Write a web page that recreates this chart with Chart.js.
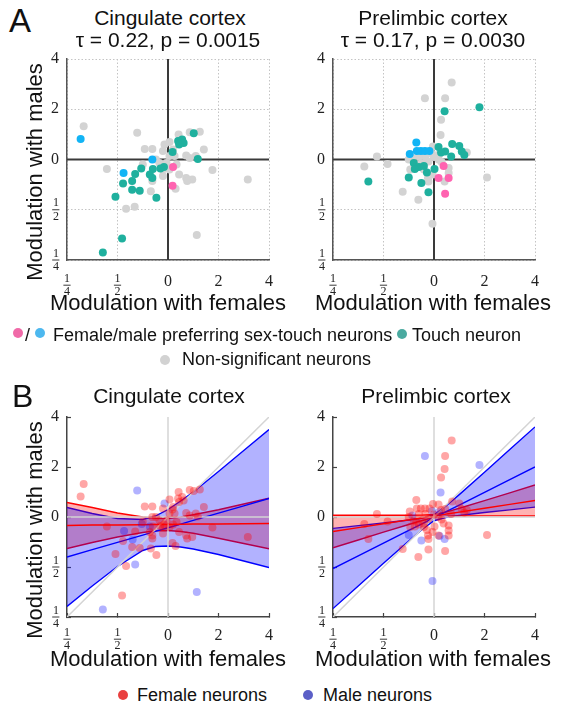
<!DOCTYPE html>
<html><head><meta charset="utf-8">
<script src="https://cdn.jsdelivr.net/npm/chart.js@4.4.0/dist/chart.umd.min.js"></script>
<style>
body{margin:0;background:#fff;width:562px;height:709px;position:relative;overflow:hidden;font-family:"Liberation Sans",Arial,sans-serif;color:#111}
.t{position:absolute;white-space:nowrap;line-height:1}
.c{transform:translateX(-50%)}
canvas{position:absolute}
.dot{position:absolute;border-radius:50%;width:10px;height:10px;margin:-5px 0 0 -5px}
</style></head><body>
<canvas id="aL" width="290" height="261" style="left:0;top:39px"></canvas>
<canvas id="aR" width="282" height="261" style="left:280px;top:39px"></canvas>
<canvas id="bL" width="290" height="267" style="left:0;top:393px"></canvas>
<canvas id="bR" width="282" height="267" style="left:280px;top:393px"></canvas>

<div class="t" style="left:9px;top:4px;font-size:33px">A</div>
<div class="t c" style="left:170px;top:7px;font-size:21px">Cingulate cortex</div>
<div class="t c" style="left:168px;top:29px;font-size:21px">τ = 0.22, p = 0.0015</div>
<div class="t c" style="left:433px;top:7px;font-size:21px">Prelimbic cortex</div>
<div class="t c" style="left:433px;top:29px;font-size:21px">τ = 0.17, p = 0.0030</div>
<div class="t c" style="left:168px;top:292px;font-size:22px">Modulation with females</div>
<div class="t c" style="left:433px;top:292px;font-size:22px">Modulation with females</div>
<div class="t" style="left:35px;top:172px;font-size:22px;transform:translate(-50%,-50%) rotate(-90deg)">Modulation with males</div>

<div class="dot" style="left:18px;top:333px;background:#f06aa8"></div>
<div class="t" style="left:25px;top:326px;font-size:18px">/</div>
<div class="dot" style="left:40px;top:333px;background:#4db8ef"></div>
<div class="t" style="left:53px;top:326px;font-size:18px">Female/male preferring sex-touch neurons</div>
<div class="dot" style="left:402px;top:334px;background:#4aaaa0"></div>
<div class="t" style="left:412px;top:326px;font-size:18px">Touch neuron</div>
<div class="dot" style="left:165px;top:360px;background:#d2d2d2"></div>
<div class="t" style="left:182px;top:350px;font-size:18px">Non-significant neurons</div>

<div class="t" style="left:12px;top:380px;font-size:32px">B</div>
<div class="t c" style="left:169px;top:385px;font-size:21px">Cingulate cortex</div>
<div class="t c" style="left:436px;top:385px;font-size:21px">Prelimbic cortex</div>
<div class="t c" style="left:168px;top:648px;font-size:22px">Modulation with females</div>
<div class="t c" style="left:433px;top:648px;font-size:22px">Modulation with females</div>
<div class="t" style="left:35px;top:530px;font-size:22px;transform:translate(-50%,-50%) rotate(-90deg)">Modulation with males</div>

<div class="dot" style="left:123px;top:695px;background:#e9403f"></div>
<div class="t" style="left:137px;top:686px;font-size:18px">Female neurons</div>
<div class="dot" style="left:308px;top:695px;background:#5b5fc7"></div>
<div class="t" style="left:323px;top:686px;font-size:18px">Male neurons</div>

<script>
// ---- axis ticks (log2 units) ----
const tickVals = [-2, -1, 0, 1, 2];
const tickLabels = [['1','4'], ['1','2'], '0', '2', '4'];

// ---- Panel A, cingulate cortex: [log2 mod. females, log2 mod. males] ----
const grayL = [[-1.67,0.66],[-0.61,0.53],[0.21,0.50],[0.43,0.54],[0.63,0.55],[0.71,0.20],[0.88,-0.21],[0.36,0.08],[0.55,0.07],[-0.46,0.21],[-0.31,0.21],[-0.07,0.30],[0.03,0.35],[-0.10,0.17],[-0.24,0.0],[-0.50,-0.10],[-0.17,-0.07],[-0.10,-0.20],[-0.10,-0.33],[-0.31,-0.43],[0.17,-0.10],[0.22,-0.30],[0.36,-0.37],[0.48,-0.40],[0.38,-0.43],[0.15,-0.58],[-0.83,-0.98],[-0.66,-0.94],[-1.21,-0.19],[-0.34,-0.63],[0.03,0.07],[0.13,0.07],[0.10,0.20],[-0.03,-0.07],[0.03,-0.20],[0.43,0.03],[0.57,-1.50],[1.58,-0.40]];
const tealL = [[0.51,0.52],[0.20,0.37],[0.28,0.40],[0.31,0.33],[0.22,0.30],[0.09,0.15],[0.59,0.01],[-0.08,-0.15],[-0.15,-0.18],[-0.30,-0.19],[-0.53,-0.18],[-0.36,-0.30],[-0.31,-0.37],[-0.65,-0.29],[-0.71,-0.43],[-0.89,-0.48],[-0.71,-0.60],[-0.56,-0.62],[-1.04,-0.74],[-0.23,-0.76],[-0.91,-1.57],[-1.29,-1.85]];
const blueL = [[-1.73,0.41],[-0.31,0.0],[-0.88,-0.27]];
const pinkL = [[0.10,-0.15],[0.09,-0.52]];

// ---- Panel A, prelimbic cortex ----
const grayR = [[0.35,1.53],[-0.18,1.22],[0.22,1.22],[0.14,0.79],[0.13,0.49],[-1.38,-0.14],[-1.13,0.06],[-0.92,-0.09],[-0.62,-0.64],[-0.31,-0.80],[-0.03,-1.28],[1.05,-0.36],[-0.02,0.26],[0.65,0.14],[0.21,-0.44],[-0.11,-0.44],[0.29,-0.27],[-0.04,0.12],[-0.17,0.06],[-0.30,0.06],[-0.43,0.03],[-0.50,0.0],[0.09,0.0],[-0.11,-0.04],[-0.24,-0.07],[0.29,-0.17],[-0.47,-0.20],[-0.12,-0.37],[-0.03,-0.30],[0.0,0.05],[0.10,0.10],[-0.20,-0.20],[0.15,-0.05],[-0.35,-0.10]];
const tealR = [[0.21,0.96],[0.90,1.04],[0.36,0.31],[0.50,0.27],[0.55,0.16],[0.60,0.09],[0.09,0.25],[0.22,0.16],[0.14,0.14],[0.34,0.06],[-0.40,-0.07],[-0.30,-0.15],[-0.20,-0.13],[-0.38,-0.19],[-0.14,-0.26],[0.01,-0.19],[-0.50,-0.36],[-0.25,-0.47],[-0.11,-0.65],[-1.30,-0.44]];
const blueR = [[-0.35,0.34],[-0.34,0.17],[-0.26,0.17],[-0.18,0.17],[-0.09,0.17],[-0.48,0.11]];
const pinkR = [[0.19,-0.13],[0.09,-0.37],[0.29,-0.37],[0.22,-0.68]];

// ---- Panel B, neurons by sex ----
const maleL = [[-0.61,0.53],[-0.07,0.27],[-0.52,-0.14],[-0.87,-0.28],[-0.70,-0.45],[-0.65,-0.95],[-1.29,-1.85],[0.57,-1.50],[-0.36,-0.19]];
const femaleL = [[-1.67,0.66],[0.21,0.50],[0.43,0.54],[0.63,0.55],[0.71,0.20],[0.88,-0.21],[0.36,0.08],[0.55,0.07],[-0.46,0.21],[-0.31,0.21],[0.03,0.35],[-0.10,0.17],[-0.24,0.0],[-0.50,-0.10],[-0.17,-0.07],[-0.10,-0.20],[-0.10,-0.33],[-0.31,-0.43],[0.17,-0.10],[0.22,-0.30],[0.36,-0.37],[0.48,-0.40],[0.38,-0.43],[0.15,-0.58],[-0.83,-0.98],[-1.21,-0.19],[-0.34,-0.63],[0.03,0.07],[0.13,0.07],[0.10,0.20],[-0.03,-0.07],[0.03,-0.20],[0.43,0.03],[1.58,-0.40],[0.51,0.52],[0.20,0.37],[0.28,0.40],[0.31,0.33],[0.22,0.30],[0.09,0.15],[0.59,0.01],[-0.08,-0.15],[-0.15,-0.18],[-0.30,-0.19],[-0.36,-0.30],[-0.31,-0.37],[-0.65,-0.29],[-0.89,-0.48],[-0.71,-0.60],[-0.56,-0.62],[-1.04,-0.74],[-0.23,-0.76],[-0.91,-1.57],[-1.73,0.41],[-0.31,0.0],[0.10,-0.15],[0.09,-0.52]];
const maleR = [[-0.18,1.22],[0.90,1.04],[0.13,0.49],[-0.03,-1.28],[-0.25,-0.47],[-0.50,-0.36],[0.21,-0.44],[0.11,-0.38],[-0.43,0.03],[-0.04,0.12],[0.10,0.10]];
const femaleR = [[0.35,1.53],[0.22,1.22],[0.14,0.79],[-1.38,-0.14],[-1.13,0.06],[-0.92,-0.09],[-0.62,-0.64],[-0.31,-0.80],[1.05,-0.36],[-0.02,0.26],[0.65,0.14],[-0.11,-0.44],[0.29,-0.27],[-0.17,0.06],[-0.30,0.06],[-0.50,0.0],[0.09,0.0],[-0.11,-0.04],[-0.24,-0.07],[0.29,-0.17],[-0.47,-0.20],[-0.12,-0.37],[-0.03,-0.30],[0.0,0.05],[-0.20,-0.20],[0.15,-0.05],[-0.35,-0.10],[0.21,0.96],[0.36,0.31],[0.50,0.27],[0.55,0.16],[0.60,0.09],[0.09,0.25],[0.22,0.16],[0.14,0.14],[0.34,0.06],[-0.40,-0.07],[-0.30,-0.15],[-0.20,-0.13],[-0.38,-0.19],[-0.14,-0.26],[0.01,-0.19],[-0.11,-0.65],[-1.30,-0.44],[-0.35,0.34],[-0.34,0.17],[-0.26,0.17],[-0.18,0.17],[-0.09,0.17],[-0.48,0.11],[0.19,-0.13],[0.09,-0.37],[0.29,-0.37],[0.22,-0.68]];

// ---- Panel B regression fits and confidence bands ----
const bandX = [-2,-1.5,-1,-0.5,-0.25,0,0.25,0.5,1,1.5,2];
const fitL_red  = [-0.17,-0.16,-0.16,-0.155,-0.15,-0.15,-0.145,-0.14,-0.14,-0.135,-0.13];
const upL_red   = [0.29,0.19,0.08,0.00,-0.025,-0.03,0.00,0.045,0.145,0.26,0.375];
const loL_red   = [-0.63,-0.51,-0.40,-0.31,-0.275,-0.27,-0.29,-0.325,-0.425,-0.53,-0.635];
const fitL_blue = [-0.80,-0.654,-0.508,-0.361,-0.288,-0.215,-0.142,-0.069,0.078,0.224,0.37];
const upL_blue  = [0.19,0.07,-0.03,-0.05,0.02,0.15,0.32,0.50,0.91,1.33,1.75];
const loL_blue  = [-1.79,-1.38,-0.99,-0.67,-0.59,-0.58,-0.60,-0.64,-0.75,-0.88,-1.01];
const fitR_red  = [-0.29,-0.2125,-0.135,-0.0575,-0.019,0.02,0.059,0.0975,0.175,0.2525,0.33];
const upR_red   = [0.036,0.035,0.034,0.035,0.037,0.051,0.103,0.175,0.328,0.484,0.64];
const loR_red   = [-0.616,-0.46,-0.304,-0.15,-0.075,-0.011,0.015,0.021,0.022,0.022,0.02];
const fitR_blue = [-1.03,-0.776,-0.523,-0.269,-0.142,-0.015,0.112,0.239,0.493,0.746,1.0];
const upR_blue  = [-0.228,-0.173,-0.119,-0.06,-0.025,0.045,0.229,0.448,0.897,1.349,1.802];
const loR_blue  = [-1.832,-1.379,-0.927,-0.478,-0.259,-0.075,-0.005,0.03,0.089,0.143,0.198];

const P = a => a.map(([x,y]) => ({x, y}));
const B = ys => ys.map((y,i) => ({x: bandX[i], y}));
const seg = (x1,y1,x2,y2) => [{x:x1,y:y1},{x:x2,y:y2}];

const FR_LH = 1.1, FR_SIZE = 12;
function tickFont(ctx){
  if (ctx.tick && ctx.tick.value < 0) return {family:'Liberation Serif', size:FR_SIZE, lineHeight:FR_LH};
  return {family:'Liberation Serif', size:16, lineHeight:1.2};
}

const fracBars = {
  id:'fracBars',
  afterDraw(chart){
    const ctx = chart.ctx, xs = chart.scales.x, ys = chart.scales.y;
    ctx.save(); ctx.strokeStyle = '#222'; ctx.lineWidth = 0.9;
    const lh = FR_SIZE*FR_LH;
    [-2,-1].forEach(v => {
      const xtl = xs.options.grid.drawTicks ? xs.options.grid.tickLength : 0;
      const px = xs.getPixelForValue(v);
      const y0 = xs.top + xtl + xs.options.ticks.padding + lh;
      ctx.beginPath(); ctx.moveTo(px-3.6, y0); ctx.lineTo(px+3.6, y0); ctx.stroke();
      const ytl = ys.options.grid.drawTicks ? ys.options.grid.tickLength : 0;
      const py = ys.getPixelForValue(v);
      const xr = ys.right - ytl - ys.options.ticks.padding;
      ctx.beginPath(); ctx.moveTo(xr-6.8, py); ctx.lineTo(xr+0.4, py); ctx.stroke();
    });
    ctx.restore();
  }
};

function axis(isB, fitSize, horiz){
  const o = {
    type:'linear', min:-2, max:2,
    afterBuildTicks: s => { s.ticks = tickVals.map(v => ({value:v})); },
    afterFit: s => { if (horiz) s.height = fitSize; else s.width = fitSize; },
    ticks:{ color:'#222', font: tickFont, maxRotation:0, autoSkip:false,
            callback: v => tickLabels[tickVals.indexOf(v)] }
  };
  if (!isB) {
    o.grid = { color: '#c4c4c4', lineWidth: 1, drawTicks: false };
    o.border = { display:true, color:'#555', width:1.5, dash:[1.5,2] };
    o.ticks.padding = horiz ? 12 : 8;
  } else {
    o.grid = { drawOnChartArea:false, drawTicks:true, tickLength:-4, tickColor:'#444', tickWidth:1.2 };
    o.border = { display:true, color:'#444', width:1.5 };
    o.ticks.padding = horiz ? 13 : 12;
  }
  return o;
}

function make(id, datasets, isB, padRight, padTop, yW, xH){
  return new Chart(document.getElementById(id), {
    type:'scatter',
    data:{ datasets },
    options:{
      responsive:false, animation:false, events:[],
      layout:{ padding:{left:0, right:padRight, top:padTop, bottom:0} },
      plugins:{ legend:{display:false}, tooltip:{enabled:false} },
      scales:{ x: axis(isB, xH, true), y: axis(isB, yW, false) }
    },
    plugins:[fracBars]
  });
}

function dots(arr, color, order, r){
  return {type:'scatter', data:P(arr), backgroundColor:color, borderWidth:0, pointRadius:r||4, order};
}
function ln(data, color, w, order){
  return {type:'line', data, borderColor:color, borderWidth:w, pointRadius:0, fill:false, tension:0, order};
}

function panelA(gray, teal, blue, pink){
  return [
    ln(seg(-2,0,2,0), '#3a3a3a', 2, 10),
    ln(seg(0,-2,0,2), '#3a3a3a', 2, 10),
    dots(gray, '#d3d3d3', 5),
    dots(teal, '#1fb09e', 4),
    dots(blue, '#12b4f5', 3),
    dots(pink, '#ff63b0', 2)
  ];
}

function panelB(fem, mal, fr, ur, lr, fb, ub, lb){
  return [
    ln(B(ub), '#0000ff', 1.4, 20),
    ln(B(lb), '#0000ff', 1.4, 20),
    {type:'line', data:B(ur), borderWidth:0, pointRadius:0, fill:{target:3}, backgroundColor:'rgba(255,0,0,0.3)', order:19},
    {type:'line', data:B(lr), borderWidth:0, pointRadius:0, fill:false, order:19},
    ln(B(ur), '#ff0000', 1.4, 18),
    ln(B(lr), '#ff0000', 1.4, 18),
    {type:'line', data:B(ub), borderWidth:0, pointRadius:0, fill:{target:7}, backgroundColor:'rgba(0,0,255,0.3)', order:17},
    {type:'line', data:B(lb), borderWidth:0, pointRadius:0, fill:false, order:17},
    ln(B(fr), '#ff0000', 1.4, 16),
    ln(B(fb), '#0000ff', 1.4, 16),
    ln(seg(-2,-2,2,2), '#d4d4d4', 1.5, 15),
    ln(seg(-2,0,2,0), '#d4d4d4', 1.5, 15),
    ln(seg(0,-2,0,2), '#d4d4d4', 1.5, 15),
    dots(mal, 'rgba(0,0,255,0.3)', 2),
    dots(fem, 'rgba(255,0,0,0.35)', 1)
  ];
}

make('aL', panelA(grayL, tealL, blueL, pinkL), false, 21, 20, 67, 40);
make('aR', panelA(grayR, tealR, blueR, pinkR), false, 27, 20, 53, 40);
make('bL', panelB(femaleL, maleL, fitL_red, upL_red, loL_red, fitL_blue, upL_blue, loL_blue), true, 21, 24, 67, 43);
make('bR', panelB(femaleR, maleR, fitR_red, upR_red, loR_red, fitR_blue, upR_blue, loR_blue), true, 27, 24, 53, 43);
</script>
</body></html>
